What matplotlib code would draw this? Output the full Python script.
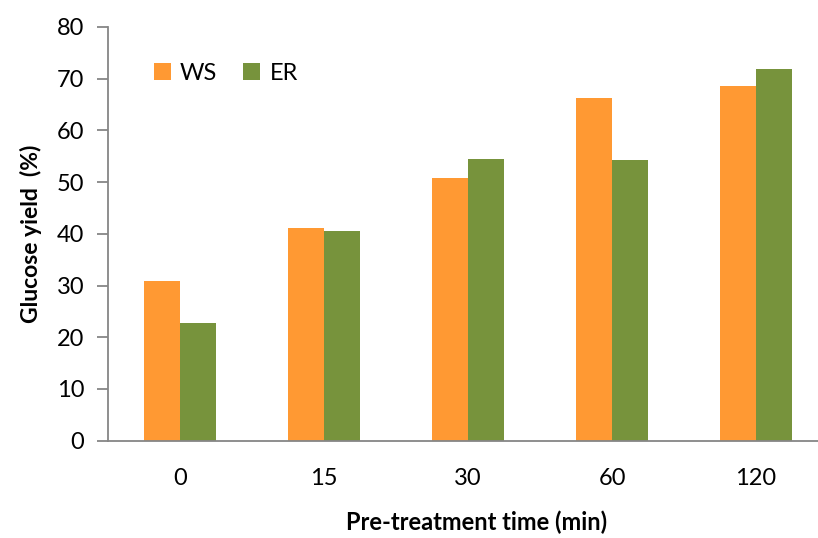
import numpy as np
import matplotlib
matplotlib.use('Agg')
import matplotlib.pyplot as plt

plt.rcParams['font.family'] = ['Lato', 'DejaVu Sans']

# glucose yield per pre-treatment time
times = ['0', '15', '30', '60', '120']
ws = [30.9, 41.1, 50.8, 66.2, 68.5]
er = [22.7, 40.6, 54.5, 54.2, 71.8]

c_ws = '#FF9933'
c_er = '#77933C'
grey = '#868686'

fig = plt.figure(figsize=(8.18, 5.38), dpi=100)
ax = fig.add_axes([108/818, 97.3/538, (818-108)/818, 413.7/538])

x = np.arange(len(times))
w = 0.25
ax.bar(x - w/2, ws, width=w, color=c_ws, label='WS')
ax.bar(x + w/2, er, width=w, color=c_er, label='ER')

ax.set_xlim(-0.5, 4.43)
ax.set_ylim(0, 80)
ax.set_yticks(np.arange(0, 81, 10))
ax.set_xticks(x)
ax.set_xticklabels(times)

for s in ['top', 'right']:
    ax.spines[s].set_visible(False)
for s in ['left', 'bottom']:
    ax.spines[s].set_color(grey)
    ax.spines[s].set_linewidth(1.3)
ax.tick_params(axis='y', direction='out', length=8, width=1.3, color=grey,
               labelsize=17, pad=9)
ax.tick_params(axis='x', length=0, labelsize=17, pad=20)

ax.set_ylabel('Glucose yield  (%)', fontsize=16.5, fontweight='bold')
ax.yaxis.set_label_coords(-66/710, 0.5)
ax.set_xlabel('Pre-treatment time (min)', fontsize=17, fontweight='bold')
ax.xaxis.set_label_coords((477-108)/(818-108), -70/413.7)

ax.legend(loc='upper left', bbox_to_anchor=(0.035, 0.965), ncol=2, frameon=False,
          fontsize=17, handlelength=0.7, handleheight=0.7, handletextpad=0.4,
          columnspacing=1.1)

plt.savefig('out.png', dpi=100)
